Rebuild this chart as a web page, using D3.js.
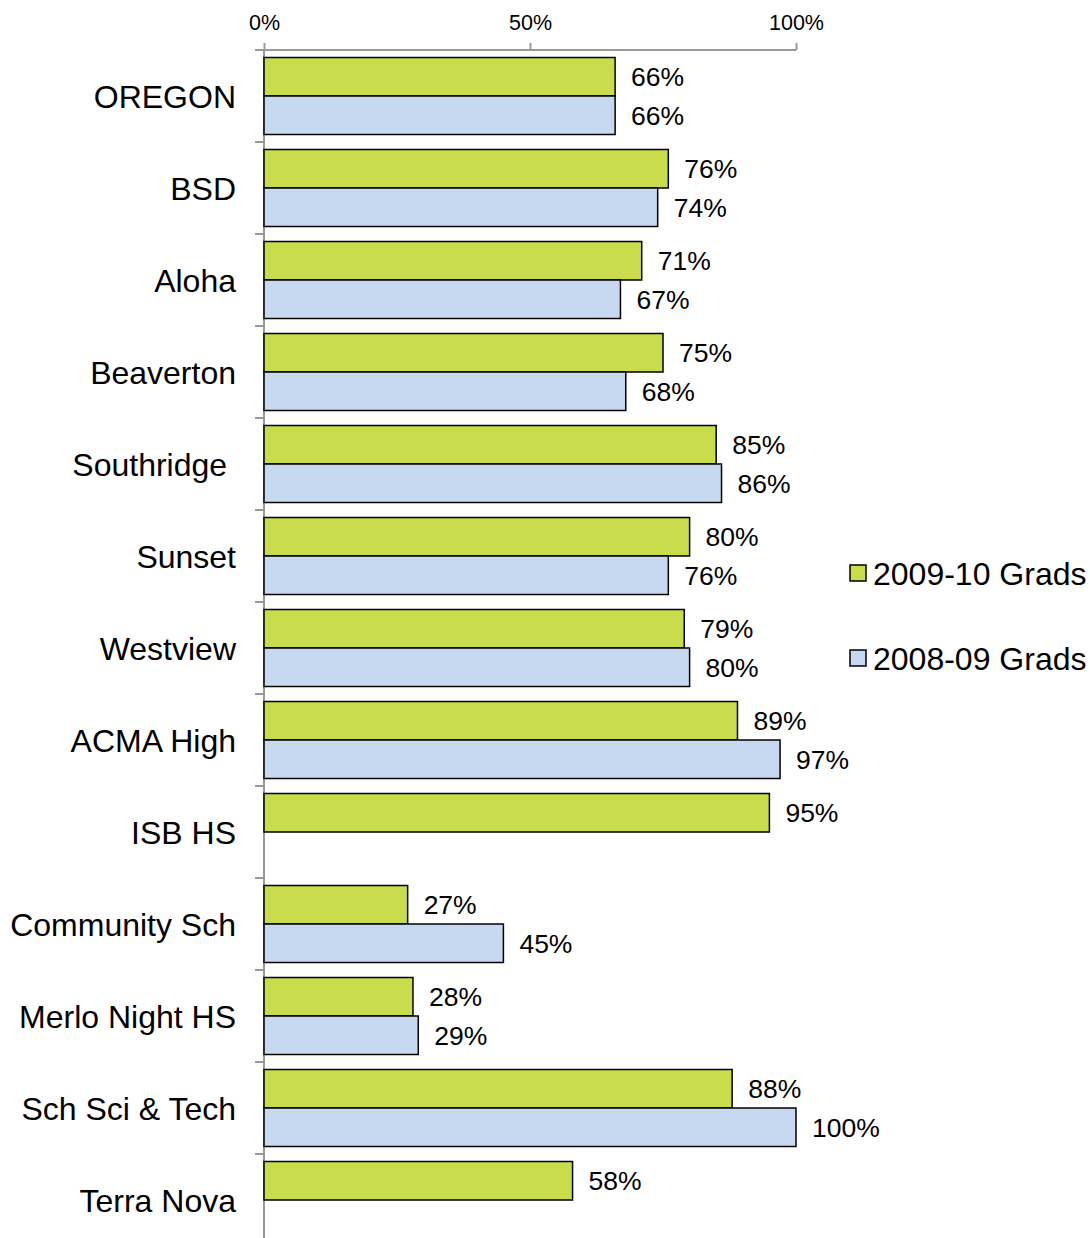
<!DOCTYPE html>
<html>
<head>
<meta charset="utf-8">
<script src="https://cdn.jsdelivr.net/npm/d3@7"></script>
<style>
  html, body { margin: 0; padding: 0; background: #fff; }
  svg { display: block; font-family: "Liberation Sans", Arial, sans-serif; }
</style>
</head>
<body>
<svg id="chart" width="1090" height="1238"></svg>
<script>
const categories = ["OREGON", "BSD", "Aloha", "Beaverton", "Southridge ", "Sunset", "Westview",
  "ACMA High", "ISB HS", "Community Sch", "Merlo Night HS", "Sch Sci & Tech", "Terra Nova"];
const seriesNames = ["2009-10 Grads", "2008-09 Grads"];
const grads2009_10 = [66, 76, 71, 75, 85, 80, 79, 89, 95, 27, 28, 88, 58];
const grads2008_09 = [66, 74, 67, 68, 86, 76, 80, 97, null, 45, 29, 100, null];
const tickValues = [0, 50, 100];
const seriesColors = ["#C8DC4C", "#C6D9F1"];

const svg = d3.select("#chart");
const x = d3.scaleLinear().domain([0, 100]).range([264, 796]);
const y0 = d3.scaleBand().domain(categories).range([50, 50 + 92 * categories.length]).padding(0);
const y1 = d3.scaleBand().domain(seriesNames).range([7.5, 84.5]).padding(0);
const color = d3.scaleOrdinal().domain(seriesNames).range(seriesColors);

const seriesData = [grads2009_10, grads2008_09];

// top axis
const xAxis = d3.axisTop(x).tickValues(tickValues).tickFormat(d => d + "%").tickSize(7).tickSizeOuter(0);
const gx = svg.append("g").attr("transform", "translate(0,50)").call(xAxis);
gx.select(".domain").attr("stroke", "#999").attr("stroke-width", 2);
gx.selectAll(".tick line").attr("stroke", "#999").attr("stroke-width", 2);
gx.selectAll(".tick text").attr("font-size", 21.5).attr("fill", "#000").attr("dy", "-0.45em")
  .attr("font-family", "'Liberation Sans', Arial, sans-serif");
gx.select(".domain").attr("d", `M255,0H${x(100)}`);

// left axis line
svg.append("line").attr("x1", x(0)).attr("x2", x(0)).attr("y1", 50).attr("y2", 1238)
  .attr("stroke", "#999").attr("stroke-width", 2);
// left ticks at band boundaries
svg.selectAll(".ltick").data(categories).join("line").attr("class", "ltick")
  .attr("x1", 255).attr("x2", x(0))
  .attr("y1", d => y0(d)).attr("y2", d => y0(d))
  .attr("stroke", "#999").attr("stroke-width", 2);

// bars
const groups = svg.selectAll(".grp").data(categories).join("g").attr("class", "grp")
  .attr("transform", d => `translate(0,${y0(d)})`);

seriesNames.forEach((s, si) => {
  groups.each(function(c, ci) {
    const v = seriesData[si][ci];
    if (v == null) return;
    const g = d3.select(this);
    g.append("rect")
      .attr("x", x(0))
      .attr("y", y1(s))
      .attr("width", x(v) - x(0))
      .attr("height", y1.bandwidth())
      .attr("fill", color(s))
      .attr("stroke", "#000")
      .attr("stroke-width", 1.5);
    g.append("text")
      .attr("x", x(v) + 16)
      .attr("y", y1(s) + y1.bandwidth() / 2)
      .attr("dy", "0.36em")
      .attr("font-size", 26.5)
      .attr("fill", "#000")
      .text(v + "%");
  });
});

// category labels
svg.selectAll(".cat").data(categories).join("text").attr("class", "cat")
  .attr("x", 236)
  .attr("y", d => y0(d) + y0.bandwidth() / 2)
  .attr("dy", "0.36em")
  .attr("text-anchor", "end")
  .attr("font-size", 32)
  .attr("fill", "#000")
  .style("white-space", "pre")
  .text(d => d);

// legend
const legendY = [573, 658];
const lg = svg.selectAll(".leg").data(seriesNames).join("g").attr("class", "leg")
  .attr("transform", (d, i) => `translate(850,${legendY[i]})`);
lg.append("rect").attr("x", 0).attr("y", -8).attr("width", 16).attr("height", 16)
  .attr("fill", d => color(d)).attr("stroke", "#000").attr("stroke-width", 1.5);
lg.append("text").attr("x", 23).attr("y", 0).attr("dy", "0.36em")
  .attr("font-size", 32).attr("fill", "#000").text(d => d);
</script>
</body>
</html>
